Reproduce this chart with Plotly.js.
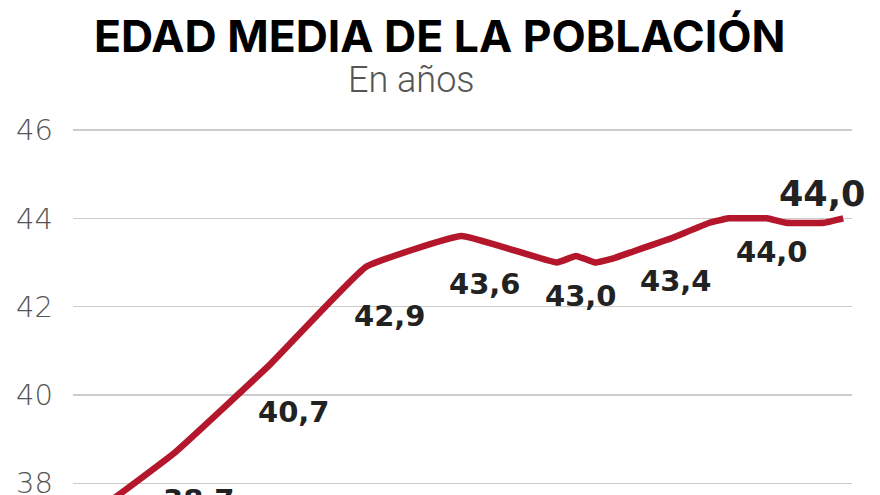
<!DOCTYPE html>
<html>
<head>
<meta charset="utf-8">
<script src="https://cdn.plot.ly/plotly-3.0.1.min.js"></script>
<style>
body{margin:0;background:#fff;}
#chart{width:880px;height:495px;}
</style>
</head>
<body>
<div id="chart"></div>
<script>
// Edad media de la poblacion
var years=[1984,1988,1993,1998,2003,2008,2009,2010,2011,2012,2013,2014,2016,2017,2018,2019,2020,2022,2023];
var edad=[37.4,38.7,40.7,42.9,43.6,43.0,43.15,43.0,43.1,43.25,43.4,43.55,43.9,44.0,44.0,44.0,43.9,43.9,44.0];
var label_years=[1988,1993,1998,2003,2008,2013,2018];
var label_shift_y=[-48,-48,-49,-48,-33,-36,-34];
var last_year=2023;
var y_ticks=[38,40,42,44,46];

function fmt(v){ return v.toFixed(1).replace('.',','); }

var trace={
    x:years,
    y:edad,
    type:'scatter',
    mode:'lines',
    line:{color:'#b4172b',width:6.5,shape:'spline',smoothing:0.3},
    hoverinfo:'skip'
};

var notes=[];
// title + subtitle
notes.push({xref:'paper',yref:'paper',x:0.47,y:1,yshift:35,text:'<b>EDAD MEDIA DE LA POBLACIÓN</b>',
    showarrow:false,xanchor:'center',yanchor:'bottom',font:{family:'Inter',size:44.5,color:'#000',weight:900}});
notes.push({xref:'paper',yref:'paper',x:0.435,y:1,yshift:-3,text:'En años',
    showarrow:false,xanchor:'center',yanchor:'bottom',font:{family:'Roboto',size:36,color:'#555',weight:300}});
for (var i=0;i<label_years.length;i++){
    var v=edad[years.indexOf(label_years[i])];
    notes.push({x:label_years[i],y:v,text:'<b>'+fmt(v)+'</b>',showarrow:false,
        xshift:24,yshift:label_shift_y[i],font:{family:'DejaVu Sans',size:29,color:'#222'}});
}
var last_v=edad[years.indexOf(last_year)];
notes.push({x:last_year,y:last_v,text:'<b>'+fmt(last_v)+'</b>',showarrow:false,
    xshift:-21,yshift:24,font:{family:'DejaVu Sans',size:35,color:'#222'}});

var layout={
    width:880,height:495,
    margin:{l:73,r:28,t:100,b:0},
    paper_bgcolor:'#fff',plot_bgcolor:'#fff',
    showlegend:false,
    xaxis:{range:[1982.66,2023.46],showgrid:false,zeroline:false,showticklabels:false,showline:false,fixedrange:true},
    yaxis:{range:[37.735,46.68],tickvals:y_ticks,ticktext:y_ticks.map(String),
        showgrid:true,gridcolor:'#cccccc',gridwidth:1.5,zeroline:false,showline:false,
        ticks:'',ticklabelstandoff:19,ticklabeloverflow:'allow',
        tickfont:{family:'DejaVu Sans',size:29,color:'#555',weight:200}},
    annotations:notes
};

Plotly.newPlot('chart',[trace],layout,{staticPlot:true});
</script>
</body>
</html>
